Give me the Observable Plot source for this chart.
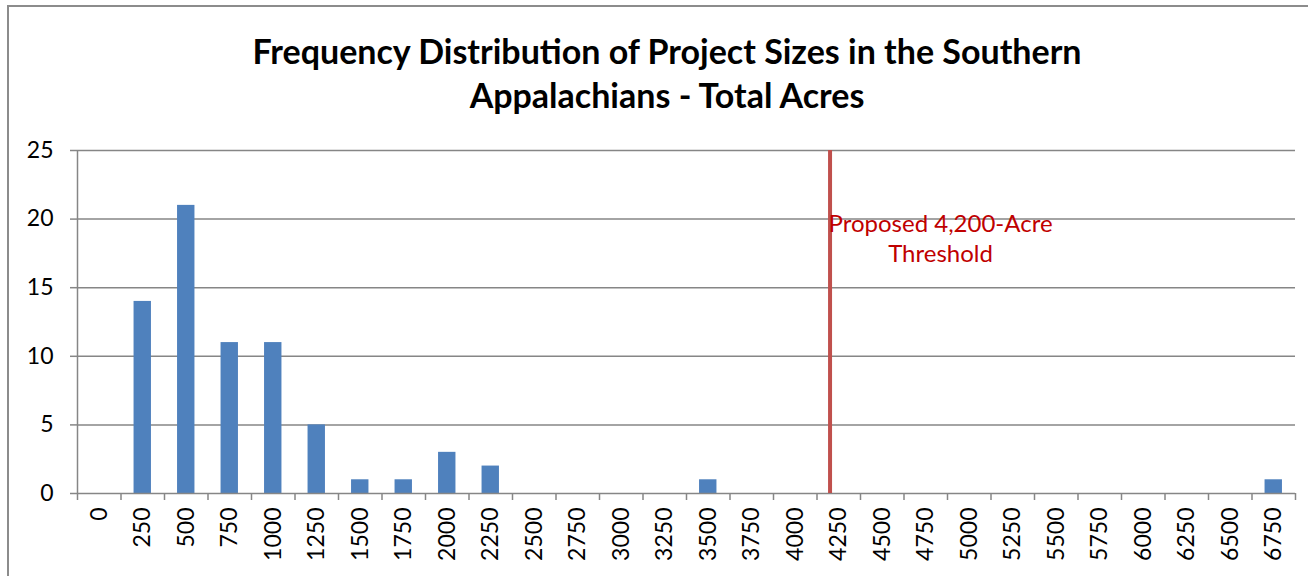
<!DOCTYPE html>
<html>
<head>
<meta charset="utf-8">
<script src="https://cdn.jsdelivr.net/npm/d3@7"></script>
<script src="https://cdn.jsdelivr.net/npm/@observablehq/plot@0.6"></script>
<style>
  html, body { margin: 0; padding: 0; background: #fff; overflow: hidden; }
  #wrap { position: relative; width: 1308px; height: 576px; }
  #frame { position: absolute; left: 7px; top: 5px; width: 1400px; height: 700px; border: 2px solid #8c8c8c; box-sizing: border-box; pointer-events: none; }
  #title { height: 130px; box-sizing: border-box; padding-top: 29px; text-align: center; font-family: Lato, sans-serif; font-weight: bold; font-size: 34px; line-height: 44px; color: #000; padding-left: 26px; white-space: nowrap; }
  #chart svg { display: block; }
</style>
</head>
<body>
<div id="wrap">
  <div id="title">Frequency Distribution of Project Sizes in the Southern<br>Appalachians - Total Acres</div>
  <div id="chart"></div>
  <div id="frame"></div>
</div>
<script>
// Category bins (acres) and project counts
const bins = [0, 250, 500, 750, 1000, 1250, 1500, 1750, 2000, 2250, 2500, 2750, 3000, 3250, 3500, 3750, 4000, 4250, 4500, 4750, 5000, 5250, 5500, 5750, 6000, 6250, 6500, 6750];
const counts = [0, 14, 21, 11, 11, 5, 1, 1, 3, 2, 0, 0, 0, 0, 1, 0, 0, 0, 0, 0, 0, 0, 0, 0, 0, 0, 0, 1];
const yTicks = [0, 5, 10, 15, 20, 25];
const threshold = 4200;
const thresholdLabel = "Proposed 4,200-Acre\nThreshold";

const step = 250;
const data = bins.map((b, i) => ({bin: b, count: counts[i]}));
const boundaries = bins.map(b => b - step / 2).concat([bins[bins.length - 1] + step / 2]);
const half = step * 0.2;
const grey = "#868686";
const font = "Lato, sans-serif";

const plot = Plot.plot({
  width: 1308,
  height: 446,
  marginTop: 20,
  marginBottom: 83,
  marginLeft: 77,
  marginRight: 13,
  style: {fontFamily: font, fontSize: "23px", color: "#000", background: "#fff"},
  x: {domain: [boundaries[0], boundaries[boundaries.length - 1]]},
  y: {domain: [0, 25]},
  marks: [
    Plot.ruleY(yTicks.filter(t => t > 0), {x1: boundaries[0], x2: boundaries[boundaries.length - 1], stroke: grey, strokeWidth: 1.5}),
    Plot.rectY(data.filter(d => d.count > 0), {x1: d => d.bin - half, x2: d => d.bin + half, y: "count", fill: "#4f81bd"}),
    Plot.ruleX([boundaries[0]], {y1: 0, y2: 25, stroke: grey, strokeWidth: 1.5}),
    Plot.ruleY([0], {x1: boundaries[0], x2: boundaries[boundaries.length - 1], stroke: grey, strokeWidth: 1.5}),
    Plot.axisY({ticks: yTicks, tickSize: 7, tickPadding: 17, stroke: grey, strokeWidth: 1.5, fontSize: 23, label: null, tickFormat: d => String(d)}),
    Plot.axisX({ticks: boundaries, tickSize: 7, tickFormat: () => "", stroke: grey, strokeWidth: 1.5, label: null}),
    Plot.axisX({ticks: bins, tickSize: 0, tickPadding: 14, tickRotate: -90, tickFormat: d => String(d), fontSize: 23, label: null}),
    Plot.ruleX([threshold], {y1: 0, y2: 25, stroke: "#c0504d", strokeWidth: 4}),
    Plot.text([thresholdLabel], {x: 4835, y: 18.66, text: d => d, fill: "#c00000", fontSize: 24, textAnchor: "middle", lineAnchor: "middle", lineHeight: 1.25})
  ]
});
document.getElementById("chart").appendChild(plot);
</script>
</body>
</html>
